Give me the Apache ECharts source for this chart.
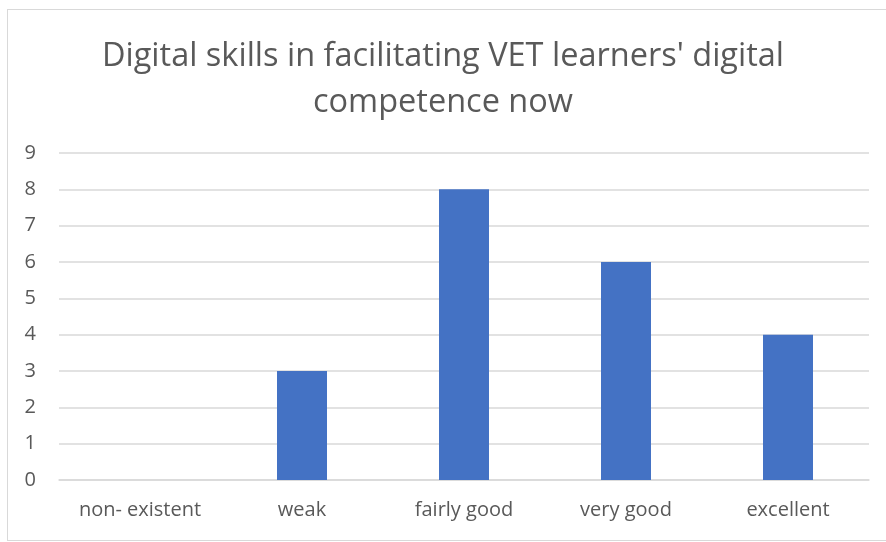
<!DOCTYPE html>
<html>
<head>
<meta charset="utf-8">
<script src="https://cdn.jsdelivr.net/npm/echarts@6/dist/echarts.min.js"></script>
<style>
  body { margin: 0; background: #fff; }
  #frame { position: absolute; left: 7px; top: 9px; width: 880px; height: 530px; border: 1px solid #d9d9d9; }
  #myChart { position: absolute; left: 0; top: 0; width: 886px; height: 542px; }
</style>
</head>
<body>
<div id="frame"></div>
<div id="myChart"></div>
<script>
  // 数据
  const categories = ['non- existent', 'weak', 'fairly good', 'very good', 'excellent']
  const counts = [0, 3, 8, 6, 4]
  const titleText = "Digital skills in facilitating VET learners' digital\ncompetence now"

  let myChart = echarts.init(document.getElementById('myChart'))
  myChart.setOption({
    animation: false,
    title: {
      text: titleText,
      left: 'center',
      top: 29,
      textStyle: {
        fontFamily: 'Open Sans',
        fontWeight: 'normal',
        fontSize: 32.5,
        lineHeight: 46,
        color: '#595959'
      }
    },
    grid: { left: 59, right: 17, top: 153, bottom: 62, containLabel: false },
    xAxis: {
      type: 'category',
      data: categories,
      axisLine: { lineStyle: { color: '#d9d9d9', width: 1.5 } },
      axisTick: { show: false },
      axisLabel: { color: '#595959', fontFamily: 'Open Sans', fontSize: 20, margin: 20, interval: 0, hideOverlap: false }
    },
    yAxis: {
      type: 'value',
      min: 0,
      max: 9,
      interval: 1,
      axisLine: { show: false },
      axisTick: { show: false },
      axisLabel: { color: '#595959', fontFamily: 'Open Sans', fontSize: 20, margin: 23 },
      splitLine: { lineStyle: { color: '#d9d9d9', width: 1.5 } }
    },
    series: [{
      type: 'bar',
      data: counts,
      barWidth: 50,
      itemStyle: { color: '#4472c4' }
    }]
  })
</script>
</body>
</html>
